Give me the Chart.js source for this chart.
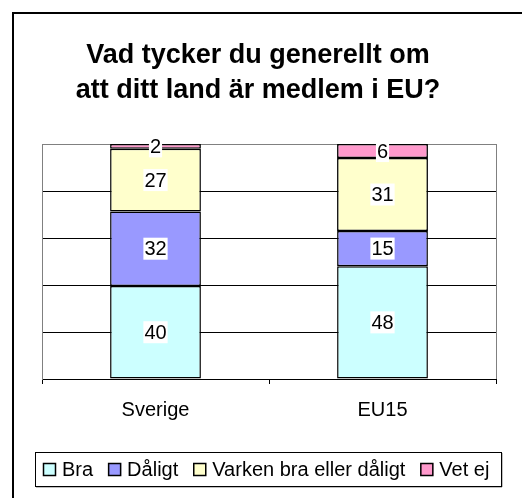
<!DOCTYPE html>
<html>
<head>
<meta charset="utf-8">
<script src="https://cdn.jsdelivr.net/npm/chart.js@4/dist/chart.umd.min.js"></script>
<style>
  body { margin: 0; background: #fff; }
  canvas { display: block; }
</style>
</head>
<body>
<canvas id="chart" width="522" height="498"></canvas>
<script>
const categories = ['Sverige', 'EU15'];
const seriesNames = ['Bra', 'Dåligt', 'Varken bra eller dåligt', 'Vet ej'];
const bra = [40, 48];
const daligt = [32, 15];
const varken = [27, 31];
const vetEj = [2, 6];
const colors = ['#ccffff', '#9999ff', '#ffffcc', '#ff99cc'];
const titleLines = ['Vad tycker du generellt om', 'att ditt land är medlem i EU?'];

const FONT = '"Liberation Sans", Arial, sans-serif';
const allSeries = [bra, daligt, varken, vetEj];

// 100% stacked: scale each column to its total
const totals = categories.map((c, i) => allSeries.reduce((s, arr) => s + arr[i], 0));

const datasets = allSeries.map((arr, k) => ({
    label: seriesNames[k],
    data: arr.map((v, i) => v / totals[i] * 100),
    raw: arr,
    backgroundColor: colors[k],
    borderColor: '#000',
    borderWidth: 1.5,
    borderSkipped: false,
    categoryPercentage: 1,
    barPercentage: 0.4
}));

const decorPlugin = {
    id: 'decor',
    beforeDraw(chart) {
        const ctx = chart.ctx;
        ctx.save();
        // outer frame (left + top)
        ctx.fillStyle = '#000';
        ctx.fillRect(12, 12, 510, 2);
        ctx.fillRect(12, 12, 2, 486);
        // title
        ctx.font = 'bold 27px ' + FONT;
        ctx.textAlign = 'center';
        ctx.textBaseline = 'alphabetic';
        ctx.fillText(titleLines[0], 258, 63);
        ctx.fillText(titleLines[1], 258, 98);
        ctx.restore();
    },
    afterDraw(chart) {
        const ctx = chart.ctx;
        const a = chart.chartArea;
        ctx.save();
        // right plot border
        ctx.strokeStyle = '#808080';
        ctx.lineWidth = 1;
        ctx.beginPath();
        ctx.moveTo(Math.round(a.right) + 0.5, a.top);
        ctx.lineTo(Math.round(a.right) + 0.5, a.bottom);
        ctx.stroke();

        // legend
        const lx = 35, ly = 452, lw = 466, lh = 34;
        ctx.fillStyle = '#808080';
        ctx.fillRect(lx + 1, ly + lh, lw, 1.5);
        ctx.fillRect(lx + lw, ly + 1, 1.5, lh);
        ctx.fillStyle = '#fff';
        ctx.fillRect(lx, ly, lw, lh);
        ctx.strokeStyle = '#000';
        ctx.strokeRect(lx + 0.5, ly + 0.5, lw, lh);
        ctx.font = '20px ' + FONT;
        ctx.textBaseline = 'middle';
        ctx.textAlign = 'left';
        let x = 43;
        const cy = 469.5;
        chart.data.datasets.forEach(ds => {
            ctx.fillStyle = ds.backgroundColor;
            ctx.fillRect(x, cy - 6.5, 13, 13);
            ctx.strokeStyle = '#000';
            ctx.lineWidth = 1.5;
            ctx.strokeRect(x + 0.5, cy - 6, 12, 12);
            ctx.fillStyle = '#000';
            ctx.fillText(ds.label, x + 19, cy + 1);
            x += 19 + ctx.measureText(ds.label).width + 15;
        });
        ctx.restore();
    },
    afterDatasetsDraw(chart) {
        const ctx = chart.ctx;
        ctx.save();
        ctx.font = '20px ' + FONT;
        ctx.textAlign = 'center';
        ctx.textBaseline = 'middle';
        chart.data.datasets.forEach((ds, k) => {
            chart.getDatasetMeta(k).data.forEach((el, i) => {
                const txt = String(ds.raw[i]);
                const cx = el.x;
                const cy = (el.y + el.base) / 2;
                const w = ctx.measureText(txt).width + 2;
                ctx.fillStyle = '#fff';
                ctx.fillRect(cx - w / 2, cy - 11, w, 22);
                ctx.fillStyle = '#000';
                ctx.fillText(txt, cx, cy + 1);
            });
        });
        ctx.restore();
    }
};

new Chart(document.getElementById('chart'), {
    type: 'bar',
    data: { labels: categories, datasets: datasets },
    options: {
        responsive: false,
        animation: false,
        devicePixelRatio: 1,
        layout: { padding: { left: 42, right: 26, top: 144, bottom: 74 } },
        plugins: {
            legend: { display: false },
            title: { display: false },
            tooltip: { enabled: false }
        },
        scales: {
            x: {
                stacked: true,
                offset: true,
                afterFit(s) { s.height = 45; },
                grid: {
                    offset: true,
                    drawOnChartArea: false,
                    drawTicks: true,
                    tickLength: 5,
                    color: '#000'
                },
                border: { color: '#000', width: 1 },
                ticks: {
                    color: '#000',
                    padding: 14,
                    font: { family: FONT, size: 20 }
                }
            },
            y: {
                stacked: true,
                min: 0,
                max: 100,
                afterFit(s) { s.width = 0; },
                ticks: { display: false, stepSize: 20 },
                grid: {
                    drawTicks: false,
                    color: c => (c.tick && c.tick.value === 100) ? '#808080' : '#000'
                },
                border: { color: '#808080', width: 1 }
            }
        }
    },
    plugins: [decorPlugin]
});
</script>
</body>
</html>
